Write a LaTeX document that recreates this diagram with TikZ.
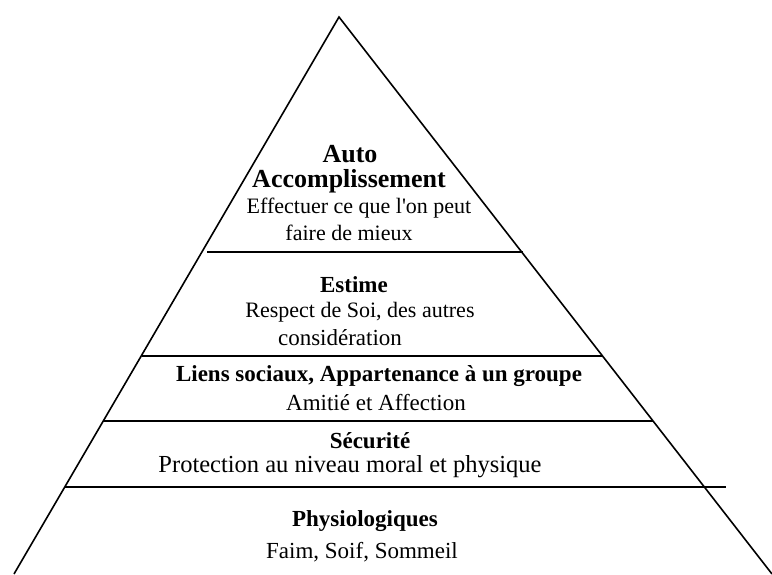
\documentclass[tikz,border=0pt]{standalone}
\usepackage{fontspec}
\setmainfont{Liberation Serif}
\begin{document}
\begin{tikzpicture}[x=1pt,y=-1pt,
  edge/.style={line width=1.6pt},
  sep/.style={line width=2pt},
  txt/.style={inner sep=0pt,font=\fontsize{23}{26}\selectfont},
  btxt/.style={inner sep=0pt,font=\fontsize{23}{26}\selectfont\bfseries},
  toptxt/.style={inner sep=0pt,font=\fontsize{22}{26}\selectfont},
  topbtxt/.style={inner sep=0pt,font=\fontsize{26}{28}\selectfont\bfseries}]
\useasboundingbox (0,0) rectangle (772,574);
\begin{scope}
\clip (0,0) rectangle (772,574);
\coordinate (apex) at (339,17);
\coordinate (bl) at (14,574);
\coordinate (br) at (772,574);
\draw[edge,line join=miter] (bl) -- (apex) -- (br);
\end{scope}
\coordinate (l1a) at (207,252); \coordinate (l1b) at (523,252);
\coordinate (l2a) at (142,356); \coordinate (l2b) at (602,356);
\coordinate (l3a) at (104,421); \coordinate (l3b) at (653,421);
\coordinate (l4a) at (65,487);  \coordinate (l4b) at (726,487);
\draw[sep] (l1a) -- (l1b);
\draw[sep] (l2a) -- (l2b);
\draw[sep] (l3a) -- (l3b);
\draw[sep] (l4a) -- (l4b);
\node[topbtxt] (auto) at (350,154) {Auto};
\node[topbtxt] (acc) at (349,181) {Accomplissement};
\node[toptxt] (eff) at (359,208) {Effectuer ce que l\textquotesingle on peut};
\node[toptxt] (faire) at (349,233) {faire de mieux};
\node[btxt] (est) at (354,285) {Estime};
\node[toptxt] (resp) at (360,312) {Respect de Soi, des autres};
\node[txt] (cons) at (340,338) {considération};
\node[btxt] (liens) at (379,376) {Liens sociaux, Appartenance à un groupe};
\node[txt] (amit) at (376,403) {Amitié et Affection};
\node[btxt] (secu) at (370,441) {Sécurité};
\node[txt,font=\fontsize{24.5}{26}\selectfont] (prot) at (350,467) {Protection au niveau moral et physique};
\node[btxt] (phys) at (365,521) {Physiologiques};
\node[txt] (faim) at (362,552) {Faim, Soif, Sommeil};
\end{tikzpicture}
\end{document}
